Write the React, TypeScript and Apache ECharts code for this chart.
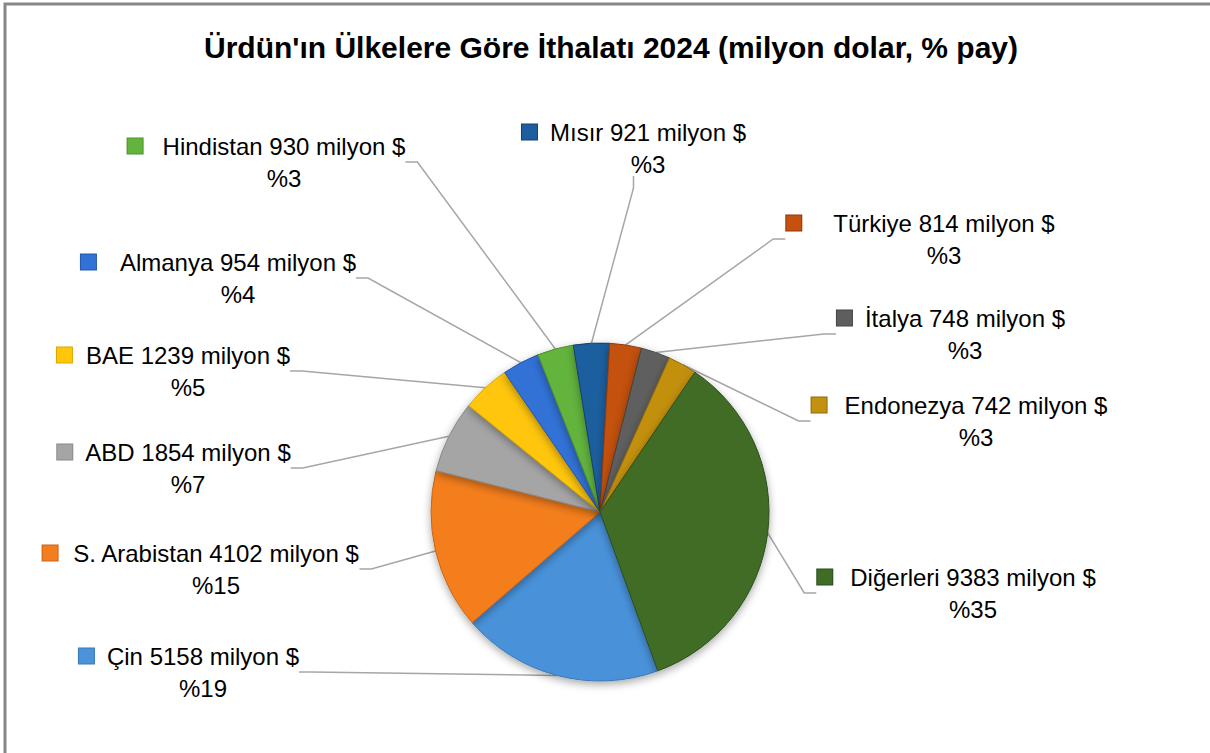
import { useEffect, useRef } from "react";
import * as echarts from "echarts";

const titleText = "Ürdün'ın Ülkelere Göre İthalatı 2024 (milyon dolar, % pay)";
const countries = ["Çin", "S. Arabistan", "ABD", "BAE", "Almanya", "Hindistan", "Mısır", "Türkiye", "İtalya", "Endonezya", "Diğerleri"];
const importsMillionUsd = [5158, 4102, 1854, 1239, 954, 930, 921, 814, 748, 742, 9383];
const unitText = "milyon $";

const colors = ["#4A92DA", "#F47E1F", "#A5A5A5", "#FFC60A", "#3272D6", "#62B43C", "#1D5E9F", "#C4510E", "#5E5E5E", "#C3900F", "#3F6C27"];
const borderColors = ["#3A78B8", "#C8651A", "#8A8A8A", "#D9A700", "#2757A8", "#4E8F30", "#163F6E", "#8F3A0A", "#444444", "#8F6A0B", "#2D4E1C"];

// label layout: [text centre x, first line centre y] and gap between key and text
const labelCenters = [[203, 656], [216, 553], [188, 452], [188, 355], [238, 262], [284, 146], [648, 132], [944, 223], [965, 318], [976, 405], [973, 577]];
const keyGaps = [13, 15, 13, 14, 24, 20, 13, 32, 13, 18, 18];
const KEY = 15;
const LINE_H = 32;
const FONT = "'Liberation Sans', Arial, sans-serif";

export default function App() {
  const ref = useRef<HTMLDivElement>(null);
  useEffect(() => {
    if (!ref.current) return;
    const chart = echarts.init(ref.current, null, { renderer: "svg" });
    const rich: Record<string, any> = {};
    countries.forEach((_, i) => {
      rich["k" + i] = {
        width: KEY,
        height: KEY,
        lineHeight: LINE_H,
        backgroundColor: colors[i],
        borderColor: borderColors[i],
        borderWidth: 1,
        align: "center",
      };
      rich["g" + i] = { width: keyGaps[i], height: 1, lineHeight: LINE_H, align: "center" };
      rich["s" + i] = { width: KEY + keyGaps[i], height: 1, lineHeight: LINE_H, align: "center" };
    });
    rich.n = { fontFamily: FONT, fontSize: 24, color: "#000", lineHeight: LINE_H, align: "center" };
    rich.p = { fontFamily: FONT, fontSize: 24, color: "#000", lineHeight: LINE_H, align: "center" };

    chart.setOption({
      animation: false,
      backgroundColor: "#ffffff",
      graphic: [
        {
          type: "rect",
          shape: { x: 5, y: 4, width: 1240, height: 800 },
          style: { fill: "none", stroke: "#878787", lineWidth: 3 },
          silent: true,
        },
        {
          type: "text",
          x: 611,
          y: 47,
          style: {
            text: titleText,
            fontFamily: FONT,
            fontSize: 30,
            fontWeight: "bold",
            fill: "#000",
            align: "center",
            verticalAlign: "middle",
          },
        },
      ],
      series: [
        {
          type: "pie",
          center: [600, 512],
          radius: 169,
          startAngle: -70,
          clockwise: true,
          avoidLabelOverlap: false,
          data: countries.map((name, i) => ({
            name,
            value: importsMillionUsd[i],
            itemStyle: {
              color: colors[i],
              borderColor: borderColors[i],
              borderWidth: 1,
            },
          })),
          itemStyle: {
            shadowBlur: 8,
            shadowColor: "rgba(0,0,0,0.35)",
            shadowOffsetY: 3,
          },
          label: {
            show: true,
            position: "outside",
            formatter: (p: any) => {
              const i = p.dataIndex;
              return `{k${i}|}{g${i}|}{n|${p.name} ${p.value} ${unitText}}\n{s${i}|}{p|%${Math.round(p.percent)}}`;
            },
            rich,
          },
          labelLine: {
            show: true,
            length: 10,
            length2: 12,
            lineStyle: { color: "#A6A6A6", width: 1.5 },
          },
          labelLayout: (params: any) => {
            const i = params.dataIndex;
            const [cx, cy] = labelCenters[i];
            return {
              x: cx - (KEY + keyGaps[i]) / 2,
              y: cy - LINE_H / 2,
              align: "center",
              verticalAlign: "top",
            };
          },
          emphasis: { disabled: true },
        },
      ],
    });
    return () => chart.dispose();
  }, []);
  return (
    <div
      ref={ref}
      style={{ position: "absolute", left: 0, top: 0, width: 1210, height: 753, background: "#fff" }}
    />
  );
}
